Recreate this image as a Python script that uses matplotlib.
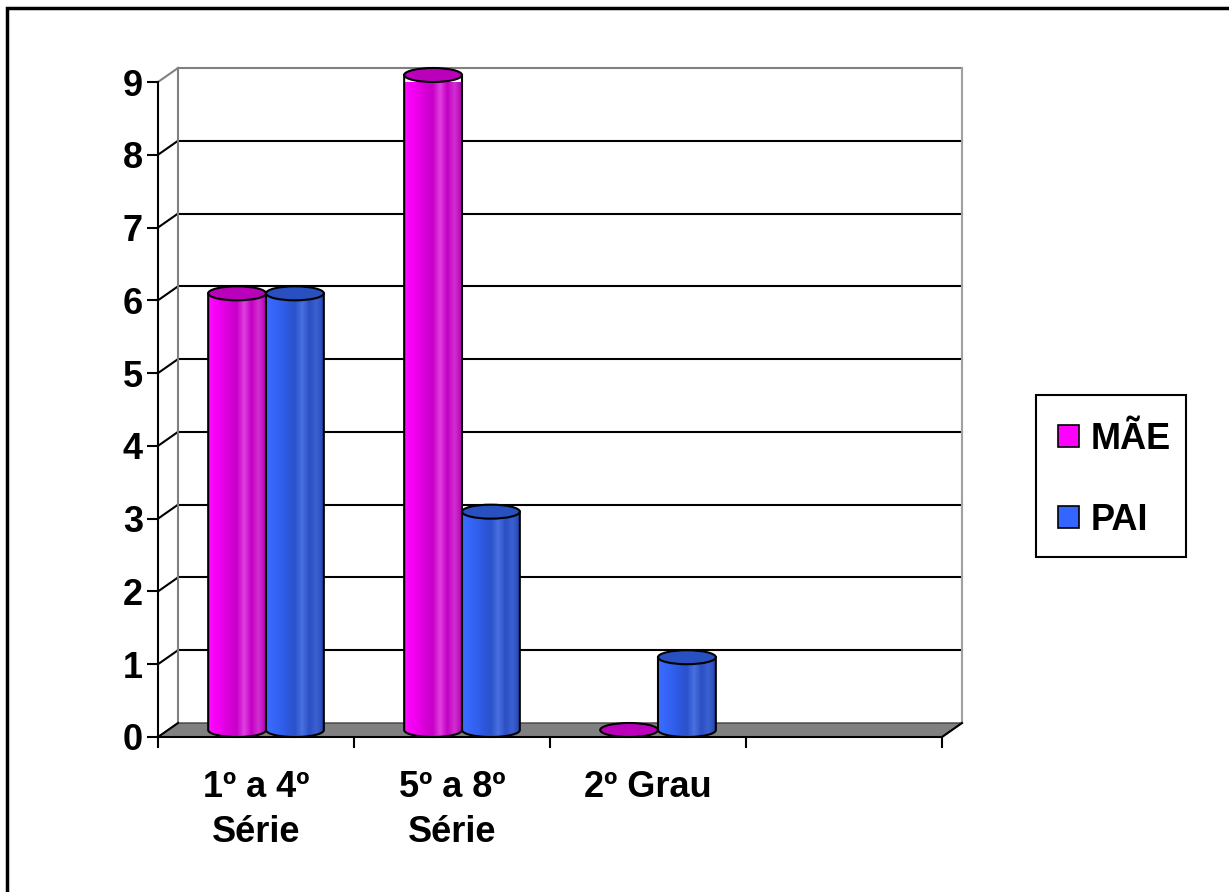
import matplotlib.pyplot as plt
import numpy as np
from matplotlib.patches import Ellipse, PathPatch, Polygon, Patch, Rectangle
from matplotlib.path import Path
from matplotlib.colors import LinearSegmentedColormap

plt.rcParams["font.family"] = ["Liberation Sans", "DejaVu Sans"]
plt.rcParams["font.weight"] = "bold"

# data
categories = ["1º a 4º\nSérie", "5º a 8º\nSérie", "2º Grau", ""]
series = ["MÃE", "PAI"]
mae = [6, 9, 0]
pai = [6, 3, 1]
y_ticks = list(range(0, 10))

body_colors = {
    "MÃE": ["#ff10ff", "#f800f8", "#e800e8", "#d400d4", "#c800c8", "#e040e0", "#c400c4", "#d030d0", "#b800b8"],
    "PAI": ["#3a6cff", "#3667fa", "#3260ee", "#2d58dc", "#2a52cc", "#4a70e0", "#2a50c4", "#3a60d0", "#2446b4"],
}
top_colors = {"MÃE": "#bb00bb", "PAI": "#2850c0"}
legend_colors = {"MÃE": "#ff00ff", "PAI": "#3366ff"}

W, H = 1229, 892
fig = plt.figure(figsize=(W / 100, H / 100), dpi=100)
fig.patch.set_facecolor("white")

ax = fig.add_axes([158 / W, (H - 737) / H, (942 - 158) / W, (737 - 82) / H])
ax.set_facecolor("none")
n_cat = len(categories)
ymax = max(y_ticks)

# 3d depth offset in data units
DX = 20 / ((942 - 158) / n_cat)
DY = 14 / ((737 - 82) / ymax)

# back wall, side wall and floor
floor = Polygon([(0, 0), (n_cat, 0), (n_cat + DX, DY), (DX, DY)], closed=True,
                facecolor="#808080", edgecolor="#404040", lw=1.0, zorder=1, clip_on=False)
ax.add_patch(floor)
for v in y_ticks[1:]:
    c = "#808080" if v == ymax else "black"
    ax.plot([DX, n_cat + DX], [v + DY, v + DY], color=c, lw=1.5, zorder=1, clip_on=False)
    ax.plot([0, DX], [v, v + DY], color=c, lw=1.5, zorder=1, clip_on=False)
ax.plot([DX, DX], [DY, ymax + DY], color="#808080", lw=1.5, zorder=1, clip_on=False)
ax.plot([n_cat + DX, n_cat + DX], [DY, ymax + DY], color="#a0a0a0", lw=1.5, zorder=1, clip_on=False)
ax.plot([0, DX], [0, DY], color="black", lw=1.5, zorder=2, clip_on=False)
ax.plot([n_cat, n_cat + DX], [0, DY], color="black", lw=1.5, zorder=2, clip_on=False)

# cylinders
bw = 0.295
z = 3
for i in range(len(mae)):
    gc = i + 0.5 + DX / 2
    for j, (name, vals) in enumerate(zip(series, [mae, pai])):
        xc = gc + (j - 0.5) * bw
        base = DY / 2
        top = base + vals[i]
        x0, x1 = xc - bw / 2, xc + bw / 2
        if vals[i] > 0:
            t = np.linspace(0, -np.pi, 40)
            verts = [(x0, top), (x1, top)] + [(xc + bw / 2 * np.cos(a), base + DY / 2 * np.sin(a)) for a in t]
            verts.append((x0, top))
            path = Path(verts, closed=True)
            body = PathPatch(path, facecolor="none", edgecolor="black", lw=1.5,
                             zorder=z + 0.2, clip_on=False)
            ax.add_patch(body)
            cmap = LinearSegmentedColormap.from_list(name, body_colors[name])
            grad = cmap(np.linspace(0, 1, 200))[np.newaxis, :, :3]
            im = ax.imshow(grad, extent=(x0, x1, base - DY / 2, top), aspect="auto",
                           origin="lower", zorder=z, interpolation="bilinear")
            im.set_clip_box(None)
            im.set_clip_path(body)
        ax.add_patch(Ellipse((xc, top), bw, DY, facecolor=top_colors[name],
                             edgecolor="black", lw=1.5, zorder=z + 0.3, clip_on=False))
        z += 1

ax.set_xlim(0, n_cat)
ax.set_ylim(0, ymax)

for s in ["top", "right"]:
    ax.spines[s].set_visible(False)
for s in ["left", "bottom"]:
    ax.spines[s].set_linewidth(1.5)
    ax.spines[s].set_zorder(2)

ax.set_yticks(y_ticks)
ax.set_yticklabels([str(v) for v in y_ticks], fontsize=26, fontweight="bold")
ax.set_xticks(range(n_cat + 1))
ax.set_xticklabels([])
ax.set_xticks([i + 0.5 for i in range(n_cat)], minor=True)
ax.set_xticklabels(categories, minor=True, fontsize=26, fontweight="bold",
                   linespacing=1.37, va="top")
ax.tick_params(axis="both", which="major", direction="out", length=8, width=1.5, pad=8)
ax.tick_params(axis="y", which="major", pad=3)
ax.tick_params(axis="x", which="minor", length=0, pad=24)

# legend: entries without frame, box drawn separately
handles = [Patch(facecolor=legend_colors[s], edgecolor="black", lw=1.2) for s in series]
leg = fig.legend(handles, series, loc="upper left", bbox_to_anchor=(1036 / W, 1 - 400 / H),
                 prop={"size": 26, "weight": "bold"}, frameon=False,
                 handlelength=0.58, handleheight=0.58, handletextpad=0.33,
                 labelspacing=1.28, borderpad=0.6, borderaxespad=0)
fig.add_artist(Rectangle((1036 / W, 1 - 557 / H), 150 / W, 162 / H, transform=fig.transFigure,
                         fill=False, edgecolor="black", lw=1.5))

# outer chart border
fig.add_artist(Rectangle((7 / W, -0.05), 1.2, 1 - 8 / H + 0.05, transform=fig.transFigure,
                         fill=False, edgecolor="black", lw=2.5))

fig.savefig("out.png", dpi=100)
